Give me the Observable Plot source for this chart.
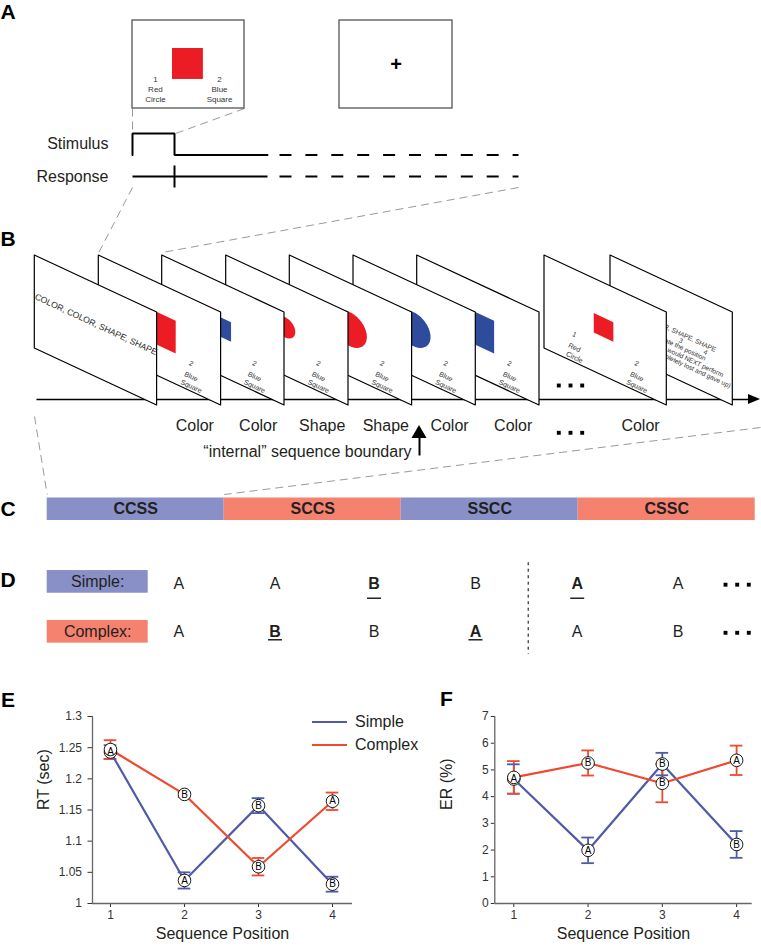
<!DOCTYPE html>
<html><head><meta charset="utf-8">
<script src="https://cdn.jsdelivr.net/npm/d3@7"></script>
<script src="https://cdn.jsdelivr.net/npm/@observablehq/plot@0.6"></script>
<style>
body{margin:0;background:#fff;font-family:"Liberation Sans",Arial,Helvetica,sans-serif;}
#fig{position:relative;width:761px;height:948px;overflow:hidden;background:#fff;}
#fig > *{position:absolute;}
</style></head><body><div id="fig"></div>
<script>
// ================= DATA =================
const positions = [1, 2, 3, 4];
const groups = ["Simple", "Complex"];
const simpleRT = [1.243, 1.037, 1.157, 1.031];
const simpleRTse = [0.011, 0.013, 0.012, 0.012];
const complexRT = [1.247, 1.175, 1.059, 1.164];
const complexRTse = [0.015, 0.004, 0.014, 0.014];
const simpleER = [4.66, 1.99, 5.22, 2.21];
const simpleERse = [0.55, 0.48, 0.42, 0.50];
const complexER = [4.72, 5.26, 4.50, 5.36];
const complexERse = [0.61, 0.47, 0.71, 0.55];
const simpleItems = ["A", "A", "B", "B"];
const complexItems = ["A", "B", "B", "A"];
const rtTicks = [1, 1.05, 1.1, 1.15, 1.2, 1.25, 1.3];
const erTicks = [0, 1, 2, 3, 4, 5, 6, 7];

const sequences = ["CCSS", "SCCS", "SSCC", "CSSC"];
const sequenceTypes = ["Simple", "Complex", "Simple", "Complex"];
const simpleStream = ["A", "A", "B", "B", "A", "A"];
const simpleSwitch = [false, false, true, false, true, false];
const complexStream = ["A", "B", "B", "A", "A", "B"];
const complexSwitch = [false, true, false, true, false, false];

const trialRules = ["Color", "Color", "Shape", "Shape", "Color", "Color", "Color"];
const trialShapes = ["square", "square", "circle", "circle", "circle", "square", "square"];
const trialColors = ["red", "blue", "red", "red", "blue", "blue", "red"];
const trialSizes = ["large", "small", "small", "large", "large", "large", "small"];
const instruction = "COLOR, COLOR, SHAPE, SHAPE";
const responseOptions = [["1", "Red", "Circle"], ["2", "Blue", "Square"]];
const timingRows = ["Stimulus", "Response"];
const promptDigits = ["1", "2", "3", "4"];
const promptLines = [instruction, "Please indicate the position", "of the task you would NEXT perform", "(or press 0 if completely lost and gave up)"];
const boundaryText = "\u201Cinternal\u201D sequence boundary";
const panelLetters = ["A", "B", "C", "D"];

// ================= STYLE / LAYOUT =================
const FONT = '"Liberation Sans", Arial, Helvetica, sans-serif';
const INK = "#231f20";
const COL = {
  simpleLine: "#4f5aa8", complexLine: "#f0492f",
  simpleFill: "#8890c7", complexFill: "#f5816f",
  red: "#ec1c24", blue: "#2e4b9c", gray: "#9a9a9a"
};
const fig = document.getElementById("fig");
const DW = 761, DH = 655;

const box1 = {x: 132, y: 20, w: 112, h: 88, skew: 0};
const box2 = {x: 339, y: 20, w: 113, h: 88, skew: 0};
const trace = {x0: 132, xOn: 174, xSolid: 267, xDash0: 279, xEnd: 518, yHigh: 133, yLow: 154.5, yResp: 176, tickHalf: 11, labelX: 108, dash: "12,13.9"};
const cardX = [34.3, 98.3, 161.7, 225.7, 289.3, 353, 416.7, 544, 610];
const card = {y: 255, w: 122.3, h: 93, skew: 57};
const rot = Math.atan2(card.skew, card.w) * 180 / Math.PI;
const timeline = {y: 399, x0: 36, x1: 760, head: 12, headHalf: 5};
const ruleLabel = {y: 425, dx: 96};
const dotsB = {xs: [558.3, 570, 581.7], ys: [385, 432.3]};
const boundary = {x: 419, tipY: 425, baseY: 438, endY: 455, half: 7.5, textX: 411, textY: 451.5};
const barC = {x: 46.7, y: 497.5, w: 177, h: 22.5};
const dLay = {ys: [581.4, 631.3], boxX: 46.7, boxW: 101, boxH: 22.7, cols: [178.3, 274.5, 373.5, 475, 576.7, 677.7],
  ulY: [597.7, 639.3], ulHalf: 7, dots: [725, 736.7, 748.3], sepX: 527.7, sepY1: 561.7, sepY2: 653.3, letterDy: [1.8, 0]};
const letterY = [11.8, 238.3, 508.3, 579.3];

const boxLab = {us: [0.205, 0.777], vs: [0.67, 0.784, 0.9], size: 8};
const cardLab = {us: [0.245, 0.755], vs: [0.70, 0.84, 0.945], size: 7};
const stimGeom = {
  large: {cu: 0.495, cv: 0.494, hu: 0.138, hv: 0.176, ru: 0.139, rv: 0.183},
  small: {cu: 0.487, cv: 0.48, hu: 0.08, hv: 0.105, ru: 0.082, rv: 0.108}
};

// ================= HELPERS =================
const fx = (f, u) => f.x + u * f.w;
const fy = (f, u, v) => f.y + v * f.h + u * f.skew;

function quad(f, u1, u2, v1, v2, opts) {
  return Plot.areaY([u1, u2], {x: u => fx(f, u), y1: u => fy(f, u, v1), y2: u => fy(f, u, v2), ...opts});
}
function ellipse(f, cu, cv, ru, rv, opts) {
  const us = d3.range(0, 61).map(k => cu - ru * Math.cos(Math.PI * k / 60));
  const half = u => { const t = (u - cu) / ru; return rv * Math.sqrt(Math.max(0, 1 - t * t)); };
  return Plot.areaY(us, {x: u => fx(f, u), y1: u => fy(f, u, cv - half(u)), y2: u => fy(f, u, cv + half(u)), ...opts});
}
function stimulus(f, shape, color, size) {
  const g = stimGeom[size];
  const fill = color === "red" ? COL.red : COL.blue;
  return shape === "square"
    ? quad(f, g.cu - g.hu, g.cu + g.hu, g.cv - g.hv, g.cv + g.hv, {fill})
    : ellipse(f, g.cu, g.cv, g.ru, g.rv, {fill});
}
function optionLabels(f, lab, rotate) {
  const items = responseOptions.flatMap((opt, j) => opt.map((s, k) => ({s, x: fx(f, lab.us[j]), y: fy(f, lab.us[j], lab.vs[k])})));
  return Plot.text(items, {x: "x", y: "y", text: "s", fontSize: lab.size, rotate, fill: "#333", fontFamily: FONT});
}
function cardFrame(i) { return {x: cardX[i], y: card.y, w: card.w, h: card.h, skew: card.skew}; }

// ================= DIAGRAM (A-D) =================
const m = [];

// gray dashed connectors
const connectors = [
  {x1: box1.x, y1: box1.y + box1.h, x2: trace.x0, y2: trace.yHigh},
  {x1: box1.x + box1.w, y1: box1.y + box1.h, x2: trace.xOn + 1, y2: trace.yHigh},
  {x1: trace.x0, y1: trace.yResp + trace.tickHalf, x2: cardX[1], y2: card.y - 3},
  {x1: trace.xEnd, y1: trace.yResp + trace.tickHalf, x2: cardX[2], y2: card.y - 3},
  {x1: timeline.x1, y1: ruleLabel.y + 2, x2: barC.x + barC.w, y2: barC.y - 3.5},
  {x1: 34, y1: 416, x2: barC.x, y2: barC.y - 3.5}
];
m.push(Plot.link(connectors, {x1: "x1", y1: "y1", x2: "x2", y2: "y2", stroke: COL.gray, strokeWidth: 1, strokeDasharray: "8,5"}));

// Panel A: stimulus screens
[box1, box2].forEach(b => m.push(Plot.rect([b], {x1: d => d.x, x2: d => d.x + d.w, y1: d => d.y, y2: d => d.y + d.h, fill: "white", stroke: "#555", strokeWidth: 1.3})));
m.push(stimulus(box1, "square", "red", "large"));
m.push(optionLabels(box1, boxLab, 0));
m.push(Plot.text(["+"], {x: box2.x + box2.w * 0.5, y: box2.y + box2.h * 0.5, text: d => d, fontSize: 20, fontWeight: "bold", fill: "black", fontFamily: FONT}));

// timing traces
const stimPts = [[trace.x0, trace.yLow], [trace.x0, trace.yHigh], [trace.xOn, trace.yHigh], [trace.xOn, trace.yLow], [trace.xSolid, trace.yLow]];
m.push(Plot.line(stimPts, {x: d => d[0], y: d => d[1], stroke: "black", strokeWidth: 2, strokeLinejoin: "miter"}));
m.push(Plot.link([{x1: trace.x0, x2: trace.xSolid, y1: trace.yResp, y2: trace.yResp},
                  {x1: trace.xOn, x2: trace.xOn, y1: trace.yResp - trace.tickHalf, y2: trace.yResp + trace.tickHalf}],
  {x1: "x1", x2: "x2", y1: "y1", y2: "y2", stroke: "black", strokeWidth: 2}));
m.push(Plot.link([trace.yLow, trace.yResp], {x1: trace.xDash0, x2: trace.xEnd, y1: d => d, y2: d => d, stroke: "black", strokeWidth: 2, strokeDasharray: trace.dash}));
m.push(Plot.text(timingRows, {x: trace.labelX, y: (d, i) => i === 0 ? 143 : trace.yResp, text: d => d, textAnchor: "end", fontSize: 16, fill: INK, fontFamily: FONT}));

// Panel B: timeline
m.push(Plot.link([timeline], {x1: "x0", x2: d => d.x1 - d.head + 1, y1: "y", y2: "y", stroke: "black", strokeWidth: 1.3}));
m.push(Plot.areaY([0, 1], {x: t => timeline.x1 - timeline.head * (1 - t), y1: t => timeline.y - timeline.headHalf * (1 - t), y2: t => timeline.y + timeline.headHalf * (1 - t), fill: "black"}));

// cards from back to front
for (let i = cardX.length - 1; i >= 0; i--) {
  const f = cardFrame(i);
  m.push(quad(f, 0, 1, 0, 1, {fill: "white", stroke: "black", strokeWidth: 1.2}));
  if (i === 0) {
    m.push(Plot.text([instruction], {x: fx(f, 0.5), y: fy(f, 0.5, 0.435), text: d => d, rotate: rot, fontSize: 8.6, fill: INK, fontFamily: FONT}));
  } else if (i === cardX.length - 1) {
    const ends = [{u: 0.86, v: 0.49}, {u: 0.777, v: 0.635}, {u: 0.92, v: 0.725}, {u: 0.98, v: 0.805}];
    m.push(Plot.text(promptLines, {x: (d, k) => fx(f, ends[k].u), y: (d, k) => fy(f, ends[k].u, ends[k].v), text: d => d, textAnchor: "end", rotate: rot, fontSize: 6.6, fill: "#333", fontFamily: FONT}));
    const du = [0.17, 0.37, 0.574, 0.777];
    m.push(Plot.text(promptDigits, {x: (d, k) => fx(f, du[k]), y: (d, k) => fy(f, du[k], 0.565), text: d => d, rotate: rot, fontSize: 6.6, fill: "#333", fontFamily: FONT}));
  } else {
    const k = i - 1;
    m.push(stimulus(f, trialShapes[k], trialColors[k], trialSizes[k]));
    m.push(optionLabels(f, cardLab, rot));
  }
}
// rule labels under the cards
m.push(Plot.text(trialRules, {x: (d, k) => cardX[k + 1] + ruleLabel.dx, y: ruleLabel.y, text: d => d, fontSize: 16, fill: INK, fontFamily: FONT}));
// ellipsis dots
m.push(Plot.dot(dotsB.ys.flatMap(y => dotsB.xs.map(x => ({x, y}))), {x: "x", y: "y", symbol: "square", r: 2.2, fill: "black", stroke: "none"}));
// internal boundary arrow
m.push(Plot.link([boundary], {x1: "x", x2: "x", y1: d => d.baseY - 1, y2: "endY", stroke: "black", strokeWidth: 2}));
m.push(Plot.areaY([0, 0.5, 1], {x: t => boundary.x - boundary.half + 2 * boundary.half * t, y1: t => boundary.baseY - (1 - Math.abs(2 * t - 1)) * (boundary.baseY - boundary.tipY), y2: boundary.baseY, fill: "black"}));
m.push(Plot.text([boundaryText], {x: boundary.textX, y: boundary.textY, text: d => d, textAnchor: "end", fontSize: 16, fill: INK, fontFamily: FONT}));

// Panel C
m.push(Plot.rect(sequences, {x1: (d, i) => barC.x + i * barC.w, x2: (d, i) => barC.x + (i + 1) * barC.w, y1: barC.y, y2: barC.y + barC.h, fill: (d, i) => sequenceTypes[i]}));
m.push(Plot.text(sequences, {x: (d, i) => barC.x + (i + 0.5) * barC.w, y: barC.y + barC.h / 2, text: d => d, fontSize: 16, fontWeight: "bold", fill: INK, fontFamily: FONT}));

// Panel D
m.push(Plot.rect(groups, {x1: dLay.boxX, x2: dLay.boxX + dLay.boxW, y1: (d, i) => dLay.ys[i] - dLay.boxH / 2, y2: (d, i) => dLay.ys[i] + dLay.boxH / 2, fill: d => d}));
m.push(Plot.text(groups, {x: dLay.boxX + dLay.boxW / 2, y: (d, i) => dLay.ys[i], text: d => d + ":", fontSize: 16, fill: INK, fontFamily: FONT}));
const streamItems = [[simpleStream, simpleSwitch], [complexStream, complexSwitch]].flatMap(([s, sw], r) => s.map((letter, c) => ({letter, sw: sw[c], r, c})));
m.push(Plot.text(streamItems.filter(d => !d.sw), {x: d => dLay.cols[d.c], y: d => dLay.ys[d.r] + dLay.letterDy[d.r], text: "letter", fontSize: 16, fill: INK, fontFamily: FONT}));
m.push(Plot.text(streamItems.filter(d => d.sw), {x: d => dLay.cols[d.c], y: d => dLay.ys[d.r] + dLay.letterDy[d.r], text: "letter", fontSize: 16, fontWeight: "bold", fill: INK, fontFamily: FONT}));
m.push(Plot.link(streamItems.filter(d => d.sw), {x1: d => dLay.cols[d.c] - dLay.ulHalf, x2: d => dLay.cols[d.c] + dLay.ulHalf, y1: d => dLay.ulY[d.r], y2: d => dLay.ulY[d.r], stroke: "black", strokeWidth: 1.3}));
m.push(Plot.dot(dLay.ys.flatMap((y, r) => dLay.dots.map(x => ({x, y: y + dLay.letterDy[r] + 1}))), {x: "x", y: "y", symbol: "square", r: 2.2, fill: "black", stroke: "none"}));
m.push(Plot.link([dLay], {x1: "sepX", x2: "sepX", y1: "sepY1", y2: "sepY2", stroke: "black", strokeWidth: 1, strokeDasharray: "3,3.5"}));

// panel letters
m.push(Plot.text(panelLetters, {x: 0, y: (d, i) => letterY[i], text: d => d, textAnchor: "start", fontSize: 21, fontWeight: "bold", fill: "black", fontFamily: FONT}));

const diagram = Plot.plot({
  width: DW, height: DH, margin: 0,
  x: {domain: [0, DW], range: [0, DW], axis: null},
  y: {domain: [0, DH], range: [0, DH], axis: null},
  color: {domain: groups, range: [COL.simpleFill, COL.complexFill]},
  style: {background: "transparent", fontFamily: FONT, color: INK, overflow: "visible"},
  marks: m
});
diagram.style.left = "0px"; diagram.style.top = "0px";
fig.appendChild(diagram);

// ================= PANELS E, F =================
function rows(vals, se, items, group) {
  return positions.map((p, i) => ({pos: p, value: vals[i], se: se[i], item: items[i], group}));
}
const cap = 0.085;
function chart({data, yDomain, yTicks, yLabel, width, marginLeft, marginRight, xDomain, tickSizeY, tickPadY, labelDx}) {
  const span = yDomain[1] - yDomain[0];
  // where both conditions coincide (same item, same spot) the marker shows a single letter
  const labels = data.filter((d, i) => !data.some((e, j) => j < i && e.pos === d.pos && e.item === d.item && Math.abs(e.value - d.value) / span < 0.03));
  return Plot.plot({
    width, height: 293, marginTop: 61, marginBottom: 45, marginLeft, marginRight,
    style: {background: "transparent", fontFamily: FONT, fontSize: "12px", color: "#333", overflow: "visible"},
    x: {domain: xDomain, ticks: positions, tickFormat: d => String(d), tickSize: 4, tickPadding: 3, label: null},
    y: {domain: yDomain, ticks: yTicks, tickFormat: d => String(+d.toFixed(2)), tickSize: tickSizeY, tickPadding: tickPadY, label: null},
    color: {domain: groups, range: [COL.simpleLine, COL.complexLine]},
    marks: [
      Plot.ruleX([xDomain[0]], {stroke: "#666", strokeWidth: 1.3}),
      Plot.ruleY([yDomain[0]], {stroke: "#666", strokeWidth: 1.3}),
      Plot.ruleX(data, {x: "pos", y1: d => d.value - d.se, y2: d => d.value + d.se, stroke: "group", strokeWidth: 1.8}),
      Plot.ruleY(data, {y: d => d.value - d.se, x1: d => d.pos - cap, x2: d => d.pos + cap, stroke: "group", strokeWidth: 1.8}),
      Plot.ruleY(data, {y: d => d.value + d.se, x1: d => d.pos - cap, x2: d => d.pos + cap, stroke: "group", strokeWidth: 1.8}),
      Plot.line(data, {x: "pos", y: "value", z: "group", stroke: "group", strokeWidth: 2.2}),
      Plot.dot(data, {x: "pos", y: "value", r: 6.3, fill: "white", stroke: "black", strokeWidth: 0.9}),
      Plot.text(labels, {x: "pos", y: "value", text: "item", fontSize: 10, fill: "black"}),
      Plot.text([yLabel], {frameAnchor: "left", dx: labelDx, rotate: -90, text: d => d, fontSize: 16, fill: INK}),
      Plot.text(["Sequence Position"], {frameAnchor: "bottom", dy: 35, text: d => d, fontSize: 16, fill: INK})
    ]
  });
}
const rtData = [...rows(simpleRT, simpleRTse, simpleItems, "Simple"), ...rows(complexRT, complexRTse, complexItems, "Complex")];
const erData = [...rows(simpleER, simpleERse, simpleItems, "Simple"), ...rows(complexER, complexERse, complexItems, "Complex")];

const chartE = chart({data: rtData, yDomain: [1, 1.3], yTicks: rtTicks, yLabel: "RT (sec)", width: 380, marginLeft: 92, marginRight: 28, xDomain: [0.757, 4.27], tickSizeY: 4.5, tickPadY: 6, labelDx: -49});
chartE.style.left = "0px"; chartE.style.top = "655px";
fig.appendChild(chartE);
const chartF = chart({data: erData, yDomain: [0, 7], yTicks: erTicks, yLabel: "ER (%)", width: 381, marginLeft: 114.3, marginRight: 9.3, xDomain: [0.744, 4.21], tickSizeY: 3.5, tickPadY: 2.5, labelDx: -47.6});
chartF.style.left = "380px"; chartF.style.top = "655px";
fig.appendChild(chartF);

// legend (HTML, for panel E)
const legendY = [721.7, 745];
groups.forEach((g, i) => {
  const line = document.createElement("div");
  Object.assign(line.style, {left: "312px", top: (legendY[i] - 1.1) + "px", width: "35px", height: "2.2px", background: i === 0 ? COL.simpleLine : COL.complexLine});
  fig.appendChild(line);
  const t = document.createElement("div");
  t.textContent = g;
  Object.assign(t.style, {left: "355px", top: (legendY[i] - 10) + "px", fontSize: "16px", lineHeight: "19px", color: INK});
  fig.appendChild(t);
});
// panel letters E, F
[["E", 1, 689], ["F", 440, 687.5]].forEach(([s, x, y]) => {
  const d = document.createElement("div");
  d.textContent = s;
  Object.assign(d.style, {left: x + "px", top: y + "px", fontSize: "21px", lineHeight: "21px", fontWeight: "bold", color: "black"});
  fig.appendChild(d);
});
</script></body></html>
